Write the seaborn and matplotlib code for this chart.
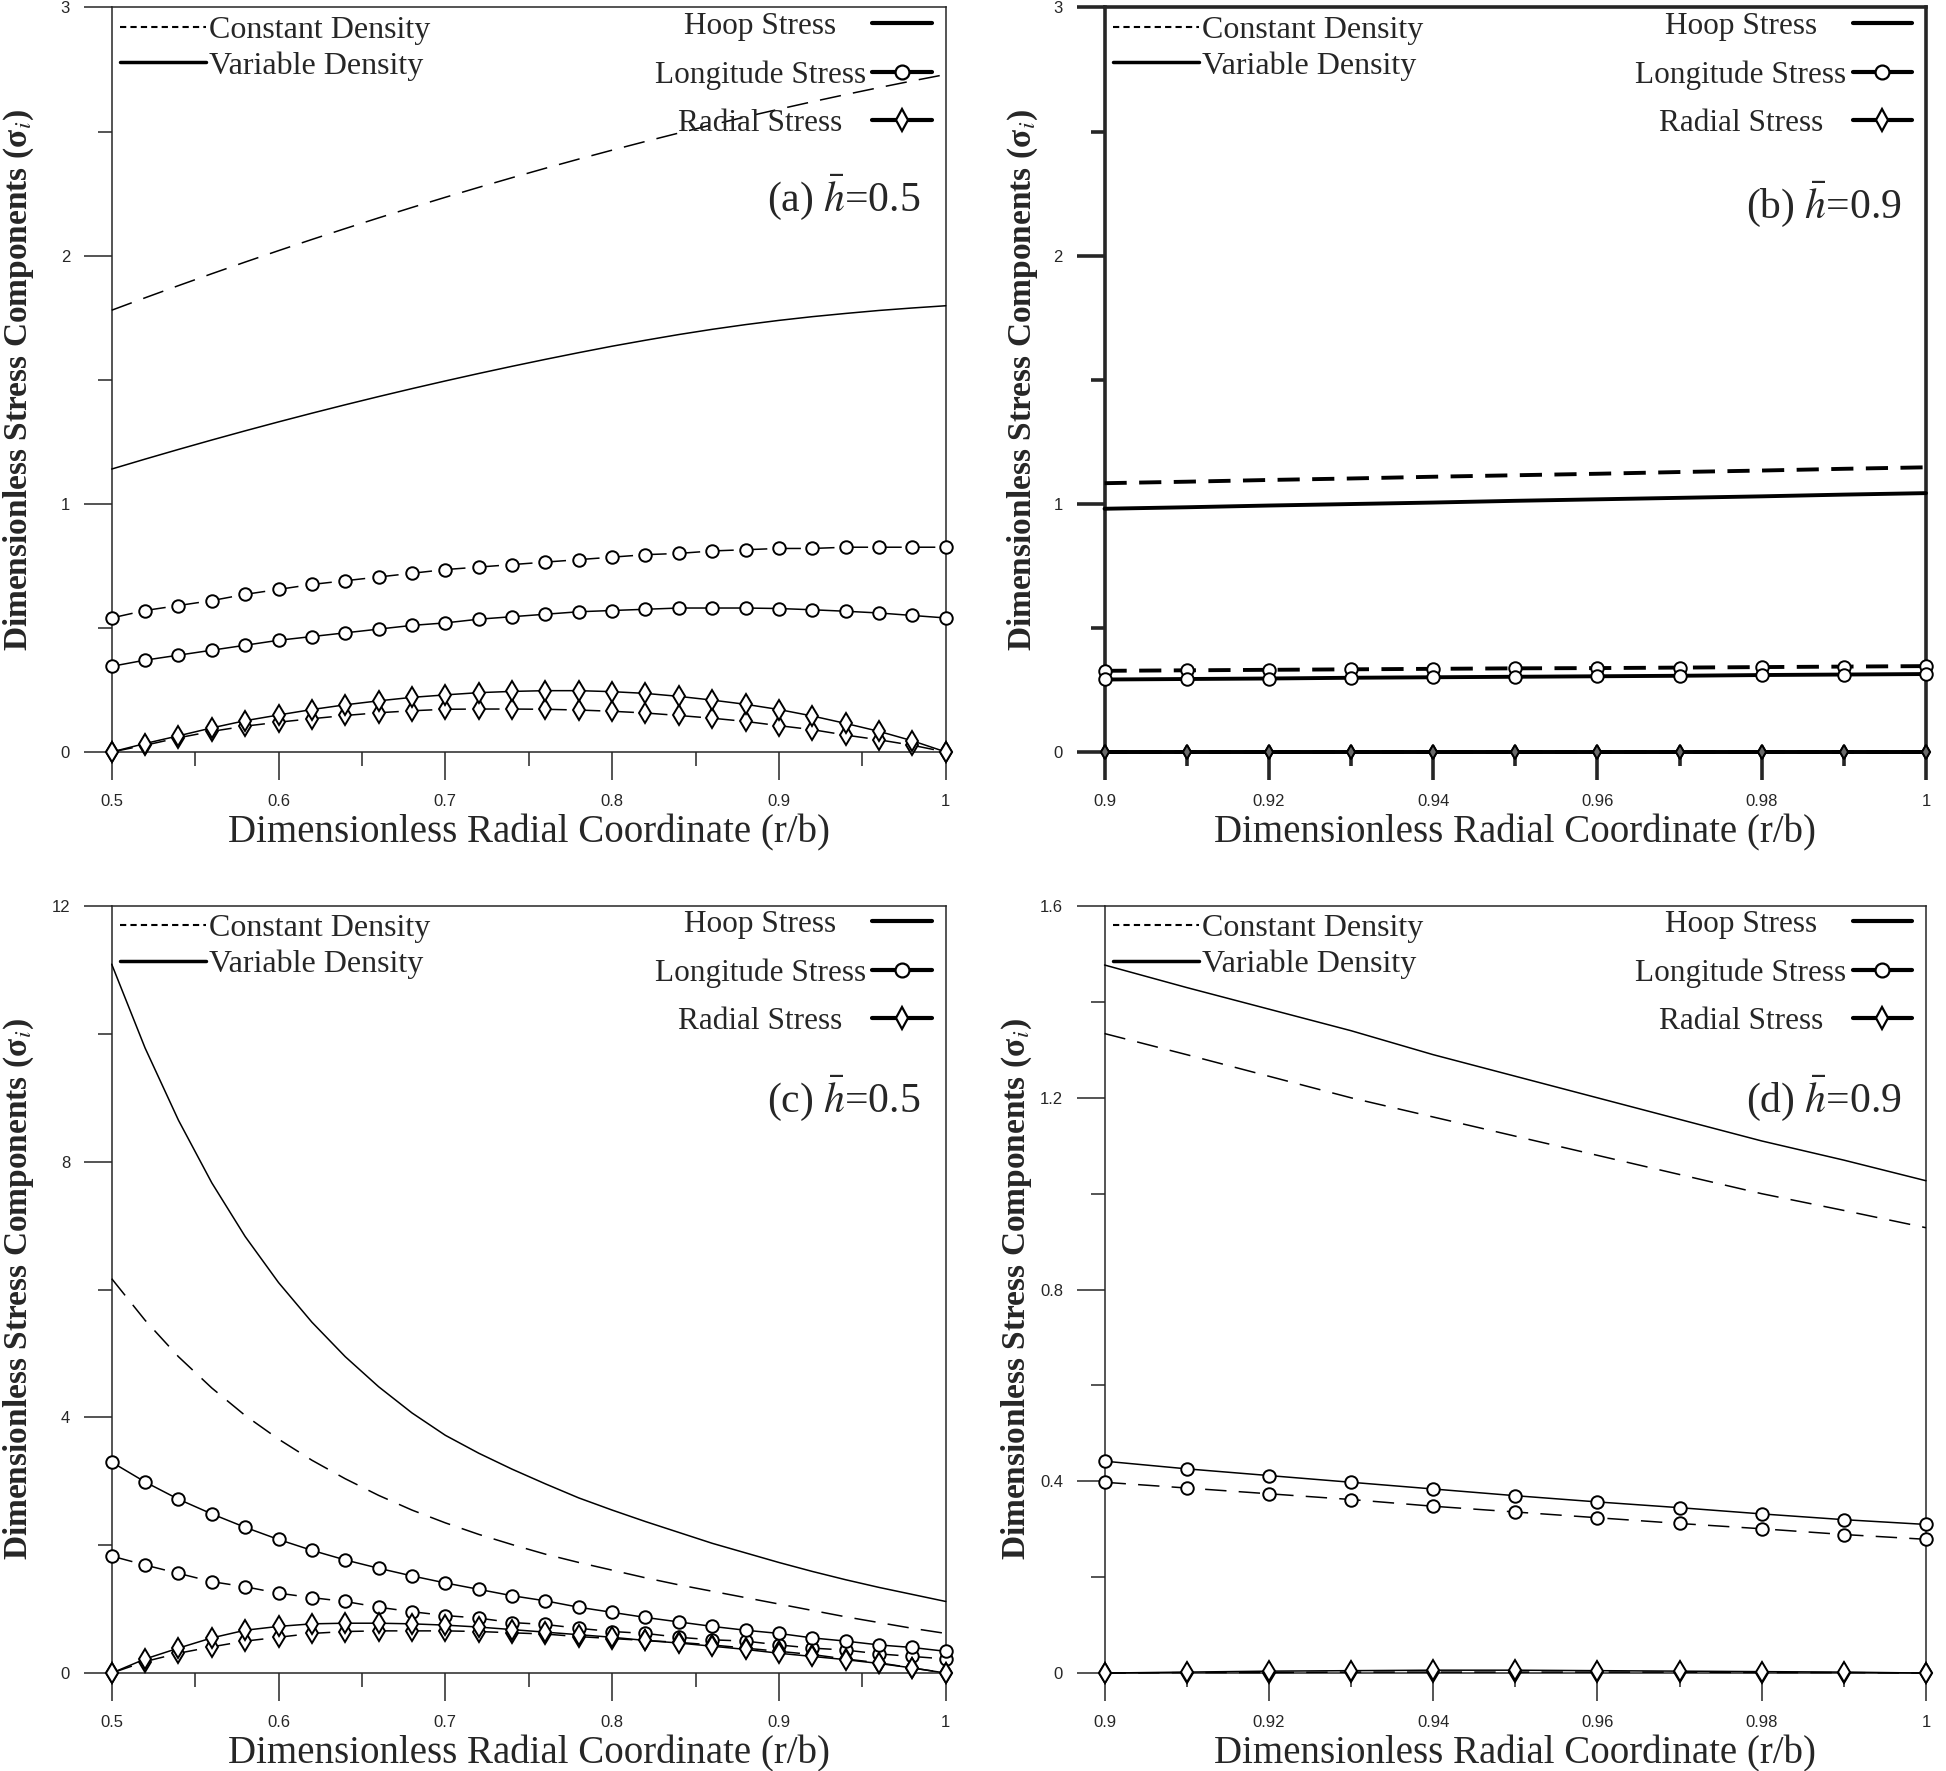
import numpy as np
import matplotlib.pyplot as plt
import seaborn as sns
from matplotlib.lines import Line2D
from matplotlib.ticker import MultipleLocator, FuncFormatter

# coordenada radial adimensional (r/b)
r_05 = np.linspace(0.5, 1.0, 26)
r_09 = np.linspace(0.9, 1.0, 11)

# (a) h = 0.5
a_hoop_const = [1.780, 1.830, 1.879, 1.927, 1.974, 2.020, 2.065, 2.109, 2.152, 2.194, 2.235, 2.275, 2.314,
                2.352, 2.389, 2.425, 2.460, 2.494, 2.527, 2.559, 2.590, 2.620, 2.649, 2.677, 2.704, 2.730]
a_hoop_var = [1.140, 1.180, 1.219, 1.257, 1.294, 1.330, 1.365, 1.399, 1.432, 1.464, 1.495, 1.525, 1.554,
              1.582, 1.609, 1.635, 1.659, 1.682, 1.703, 1.722, 1.739, 1.754, 1.767, 1.779, 1.789, 1.798]
a_long_const = [0.54, 0.57, 0.59, 0.61, 0.635, 0.655, 0.675, 0.69, 0.705, 0.72, 0.735, 0.745, 0.755,
                0.765, 0.775, 0.785, 0.795, 0.80, 0.81, 0.815, 0.82, 0.82, 0.825, 0.825, 0.825, 0.825]
a_long_var = [0.345, 0.37, 0.39, 0.41, 0.43, 0.45, 0.465, 0.48, 0.495, 0.51, 0.52, 0.535, 0.545,
              0.555, 0.565, 0.57, 0.575, 0.58, 0.58, 0.58, 0.578, 0.573, 0.567, 0.56, 0.55, 0.54]
a_rad_const = [0.0, 0.027, 0.057, 0.083, 0.104, 0.12, 0.134, 0.147, 0.158, 0.166, 0.172, 0.173, 0.173,
               0.172, 0.169, 0.164, 0.157, 0.147, 0.136, 0.123, 0.106, 0.09, 0.068, 0.049, 0.027, 0.0]
a_rad_var = [0.0, 0.034, 0.065, 0.097, 0.126, 0.149, 0.171, 0.19, 0.206, 0.22, 0.23, 0.239, 0.244,
             0.247, 0.247, 0.243, 0.236, 0.224, 0.209, 0.192, 0.171, 0.145, 0.115, 0.083, 0.045, 0.0]

# (b) h = 0.9
b_hoop_const = [1.083, 1.089, 1.096, 1.102, 1.109, 1.115, 1.121, 1.128, 1.134, 1.141, 1.147]
b_hoop_var = [0.980, 0.986, 0.993, 0.999, 1.005, 1.012, 1.018, 1.024, 1.030, 1.037, 1.043]
b_long_const = [0.327, 0.329, 0.331, 0.333, 0.335, 0.337, 0.338, 0.340, 0.342, 0.344, 0.346]
b_long_var = [0.292, 0.294, 0.296, 0.299, 0.301, 0.303, 0.305, 0.307, 0.310, 0.312, 0.314]
b_rad_const = [0.0, 0.0, 0.0, 0.0, 0.0, 0.0, 0.0, 0.0, 0.0, 0.0, 0.0]
b_rad_var = [0.0, 0.0, 0.0, 0.0, 0.0, 0.0, 0.0, 0.0, 0.0, 0.0, 0.0]

# (c) h = 0.5
c_hoop_const = [6.17, 5.52, 4.95, 4.46, 4.03, 3.66, 3.33, 3.04, 2.78, 2.55, 2.35, 2.17, 2.01,
                1.86, 1.73, 1.61, 1.49, 1.38, 1.28, 1.18, 1.08, 0.98, 0.88, 0.79, 0.70, 0.62]
c_hoop_var = [11.09, 9.78, 8.65, 7.67, 6.83, 6.11, 5.49, 4.95, 4.48, 4.07, 3.72, 3.44, 3.19,
              2.96, 2.74, 2.55, 2.37, 2.20, 2.03, 1.88, 1.73, 1.59, 1.46, 1.34, 1.23, 1.12]
c_long_const = [1.83, 1.69, 1.56, 1.43, 1.35, 1.25, 1.18, 1.12, 1.03, 0.96, 0.90, 0.86, 0.79,
                0.76, 0.70, 0.65, 0.62, 0.56, 0.52, 0.50, 0.44, 0.39, 0.36, 0.30, 0.26, 0.22]
c_long_var = [3.30, 2.99, 2.72, 2.49, 2.28, 2.09, 1.92, 1.77, 1.64, 1.52, 1.41, 1.31, 1.21,
              1.13, 1.03, 0.95, 0.87, 0.80, 0.73, 0.67, 0.62, 0.55, 0.50, 0.44, 0.40, 0.34]
c_rad_const = [0.0, 0.18, 0.31, 0.41, 0.50, 0.56, 0.62, 0.65, 0.66, 0.66, 0.66, 0.65, 0.63,
               0.61, 0.57, 0.54, 0.51, 0.48, 0.44, 0.39, 0.34, 0.29, 0.22, 0.16, 0.08, 0.0]
c_rad_var = [0.0, 0.22, 0.39, 0.55, 0.67, 0.73, 0.77, 0.78, 0.78, 0.77, 0.75, 0.72, 0.68,
             0.64, 0.60, 0.56, 0.51, 0.47, 0.42, 0.37, 0.31, 0.26, 0.21, 0.15, 0.08, 0.0]

# (d) h = 0.9
d_hoop_const = [1.334, 1.29, 1.245, 1.20, 1.16, 1.12, 1.08, 1.04, 1.00, 0.965, 0.929]
d_hoop_var = [1.477, 1.43, 1.385, 1.34, 1.29, 1.245, 1.20, 1.155, 1.11, 1.07, 1.027]
d_long_const = [0.398, 0.386, 0.374, 0.362, 0.348, 0.336, 0.324, 0.312, 0.301, 0.289, 0.279]
d_long_var = [0.442, 0.426, 0.412, 0.398, 0.384, 0.370, 0.357, 0.345, 0.332, 0.320, 0.310]
d_rad_const = [0.0, 0.001, 0.001, 0.002, 0.002, 0.002, 0.002, 0.002, 0.001, 0.001, 0.0]
d_rad_var = [0.0, 0.002, 0.004, 0.005, 0.006, 0.006, 0.005, 0.004, 0.003, 0.002, 0.0]

paineis = [
    dict(tag='(a)', hbar='0.5', r=r_05, ylim=(0, 3), ymaj=1, ymin=0.5, xmaj=0.1, xmin=0.05,
         rect=[0.0574, 0.5754, 0.4286, 0.4204], lw=1.1, tag_y=0.745, ylab_x=-0.091,
         dados=[a_hoop_const, a_hoop_var, a_long_const, a_long_var, a_rad_const, a_rad_var]),
    dict(tag='(b)', hbar='0.9', r=r_09, ylim=(0, 3), ymaj=1, ymin=0.5, xmaj=0.02, xmin=0.01,
         rect=[0.5676, 0.5754, 0.4221, 0.4204], lw=2.8, tag_y=0.735, ylab_x=-0.079,
         dados=[b_hoop_const, b_hoop_var, b_long_const, b_long_var, b_rad_const, b_rad_var]),
    dict(tag='(c)', hbar='0.5', r=r_05, ylim=(0, 12), ymaj=4, ymin=2, xmaj=0.1, xmin=0.05,
         rect=[0.0574, 0.0553, 0.4286, 0.4331], lw=1.1, tag_y=0.749, ylab_x=-0.091,
         dados=[c_hoop_const, c_hoop_var, c_long_const, c_long_var, c_rad_const, c_rad_var]),
    dict(tag='(d)', hbar='0.9', r=r_09, ylim=(0, 1.6), ymaj=0.4, ymin=0.2, xmaj=0.02, xmin=0.01,
         rect=[0.5676, 0.0553, 0.4221, 0.4331], lw=1.1, tag_y=0.749, ylab_x=-0.086,
         dados=[d_hoop_const, d_hoop_var, d_long_const, d_long_var, d_rad_const, d_rad_var]),
]

sns.set_style('ticks')
plt.rcParams['font.family'] = ['Liberation Serif', 'DejaVu Serif']
plt.rcParams['mathtext.fontset'] = 'stix'

fig = plt.figure(figsize=(19.46, 17.71), dpi=100)
fmt = FuncFormatter(lambda v, p: f'{v:g}')
fonte_ticks = ['Liberation Sans Narrow', 'Liberation Sans']
legendas_direita = []

for p in paineis:
    ax = fig.add_axes(p['rect'])
    lw = p['lw']
    grosso = lw > 2
    tracejado = (0, (5.7, 3.2)) if grosso else (0, (14, 8))
    estilos = [('--', None), ('-', None), ('--', 'o'), ('-', 'o'), ('--', 'd'), ('-', 'd')]
    for valores, (ls, mk) in zip(p['dados'], estilos):
        # no painel (b) os losangos da tensão radial ficam pequenos e escuros
        if grosso and mk == 'd':
            ms, face = 7, 'dimgray'
        else:
            ms, face = (9 if mk == 'o' else 10), 'white'
        sns.lineplot(x=p['r'], y=valores, ax=ax, color='black', lw=lw,
                     linestyle=tracejado if ls == '--' else '-',
                     marker=mk, markersize=ms, markerfacecolor=face,
                     markeredgecolor='black', markeredgewidth=1.4,
                     estimator=None, sort=False, clip_on=False, zorder=3)

    ax.set_xlim(p['r'][0], p['r'][-1])
    ax.set_ylim(*p['ylim'])
    ax.xaxis.set_major_locator(MultipleLocator(p['xmaj']))
    ax.xaxis.set_minor_locator(MultipleLocator(p['xmin']))
    ax.yaxis.set_major_locator(MultipleLocator(p['ymaj']))
    ax.yaxis.set_minor_locator(MultipleLocator(p['ymin']))
    ax.xaxis.set_major_formatter(fmt)
    ax.yaxis.set_major_formatter(fmt)
    espessura = 2.6 if grosso else 1.1
    for s in ax.spines.values():
        s.set_linewidth(espessura)
    ax.tick_params(which='major', direction='out', length=20, width=espessura, labelsize=12,
                   pad=10, labelfontfamily=fonte_ticks)
    ax.tick_params(which='minor', direction='out', length=10, width=espessura)

    ax.set_xlabel('Dimensionless Radial Coordinate (r/b)', fontsize=28, labelpad=4)
    ax.set_ylabel('Dimensionless Stress Components (σ$_{i}$)', fontsize=24, fontweight='bold')
    ax.yaxis.set_label_coords(p['ylab_x'], 0.5)

    ax.text(0.97, p['tag_y'], p['tag'] + r' $\bar{h}$=' + p['hbar'], transform=ax.transAxes,
            ha='right', va='center', fontsize=30)

    h_dens = [Line2D([], [], color='black', lw=1.5, linestyle=(0, (3, 2))),
              Line2D([], [], color='black', lw=2.5)]
    leg1 = ax.legend(h_dens, ['Constant Density', 'Variable Density'], loc='upper left',
                     frameon=False, fontsize=23, handlelength=2.7, handletextpad=0.1,
                     labelspacing=0.2, borderaxespad=0.15, borderpad=0.1)
    ax.add_artist(leg1)
    h_tens = [Line2D([], [], color='black', lw=3),
              Line2D([], [], color='black', lw=3, marker='o', markersize=10,
                     markerfacecolor='white', markeredgewidth=1.6),
              Line2D([], [], color='black', lw=3, marker='d', markersize=11,
                     markerfacecolor='white', markeredgewidth=1.6)]
    leg2 = ax.legend(h_tens, ['Hoop Stress', 'Longitude Stress', 'Radial Stress'], loc='upper right',
                     bbox_to_anchor=(1.0, 1.013), frameon=False, fontsize=22.5, handlelength=1.9,
                     handletextpad=0.2, labelspacing=0.62, markerfirst=False,
                     borderaxespad=0.35, borderpad=0.1)
    legendas_direita.append(leg2)

# rótulos da legenda da direita centrados entre si, como no original
fig.canvas.draw()
renderer = fig.canvas.get_renderer()
for leg in legendas_direita:
    larguras = [t.get_window_extent(renderer).width for t in leg.get_texts()]
    for t, w in zip(leg.get_texts(), larguras):
        t.set_x(-(max(larguras) - w) / 2)

fig.savefig('out.png', dpi=100)
